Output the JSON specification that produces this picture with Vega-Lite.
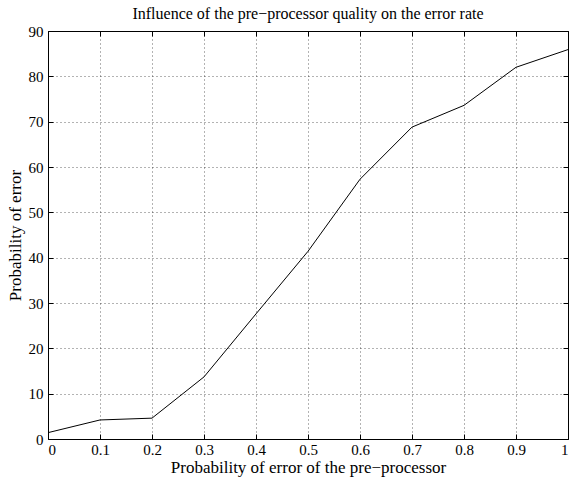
{
  "$schema": "https://vega.github.io/schema/vega-lite/v6.json",
  "autosize": "none",
  "padding": {"left": 48, "top": 31, "right": 10, "bottom": 40},
  "width": 520,
  "height": 408,
  "background": "white",
  "config": {
    "font": "Liberation Serif",
    "view": {"stroke": "black", "strokeWidth": 1},
    "axis": {
      "labelFont": "Liberation Serif",
      "titleFont": "Liberation Serif",
      "labelFontSize": 15,
      "titleFontSize": 17,
      "labelColor": "black",
      "titleColor": "black",
      "titleFontWeight": "normal",
      "domain": false,
      "tickColor": "black",
      "tickSize": -5,
      "gridColor": "#000000",
      "gridOpacity": 0.6,
      "gridDash": [1, 3],
      "gridWidth": 1
    },
    "title": {"font": "Liberation Serif", "fontSize": 16, "fontWeight": "normal", "color": "black"}
  },
  "title": {"text": "Influence of the pre−processor quality on the error rate", "offset": 2},
  "data": {
    "values": [
      {"x": 0.0, "y": 1.4},
      {"x": 0.1, "y": 4.2},
      {"x": 0.2, "y": 4.6},
      {"x": 0.3, "y": 13.7},
      {"x": 0.4, "y": 27.6},
      {"x": 0.5, "y": 41.4},
      {"x": 0.6, "y": 57.3},
      {"x": 0.7, "y": 68.8},
      {"x": 0.8, "y": 73.6},
      {"x": 0.9, "y": 82.0},
      {"x": 1.0, "y": 85.9}
    ]
  },
  "layer": [
    {
      "mark": {"type": "line", "color": "black", "strokeWidth": 1},
      "encoding": {
        "x": {
          "field": "x", "type": "quantitative",
          "scale": {"domain": [0, 1], "nice": false},
          "axis": {"values": [0, 0.1, 0.2, 0.3, 0.4, 0.5, 0.6, 0.7, 0.8, 0.9, 1], "format": "~g", "title": "Probability of error of the pre−processor", "labelPadding": 8, "titlePadding": 2}
        },
        "y": {
          "field": "y", "type": "quantitative",
          "scale": {"domain": [0, 90], "nice": false},
          "axis": {"values": [0, 10, 20, 30, 40, 50, 60, 70, 80, 90], "title": "Probability of error", "labelPadding": 10, "titlePadding": 4}
        }
      }
    },
    {
      "mark": {"type": "point", "opacity": 0},
      "encoding": {
        "x": {
          "field": "x", "type": "quantitative",
          "scale": {"domain": [0, 1], "nice": false},
          "axis": {"orient": "top", "values": [0, 0.1, 0.2, 0.3, 0.4, 0.5, 0.6, 0.7, 0.8, 0.9, 1], "labels": false, "grid": false, "title": null}
        },
        "y": {
          "field": "y", "type": "quantitative",
          "scale": {"domain": [0, 90], "nice": false},
          "axis": {"orient": "right", "values": [0, 10, 20, 30, 40, 50, 60, 70, 80, 90], "labels": false, "grid": false, "title": null}
        }
      }
    }
  ],
  "resolve": {"axis": {"x": "independent", "y": "independent"}}
}
